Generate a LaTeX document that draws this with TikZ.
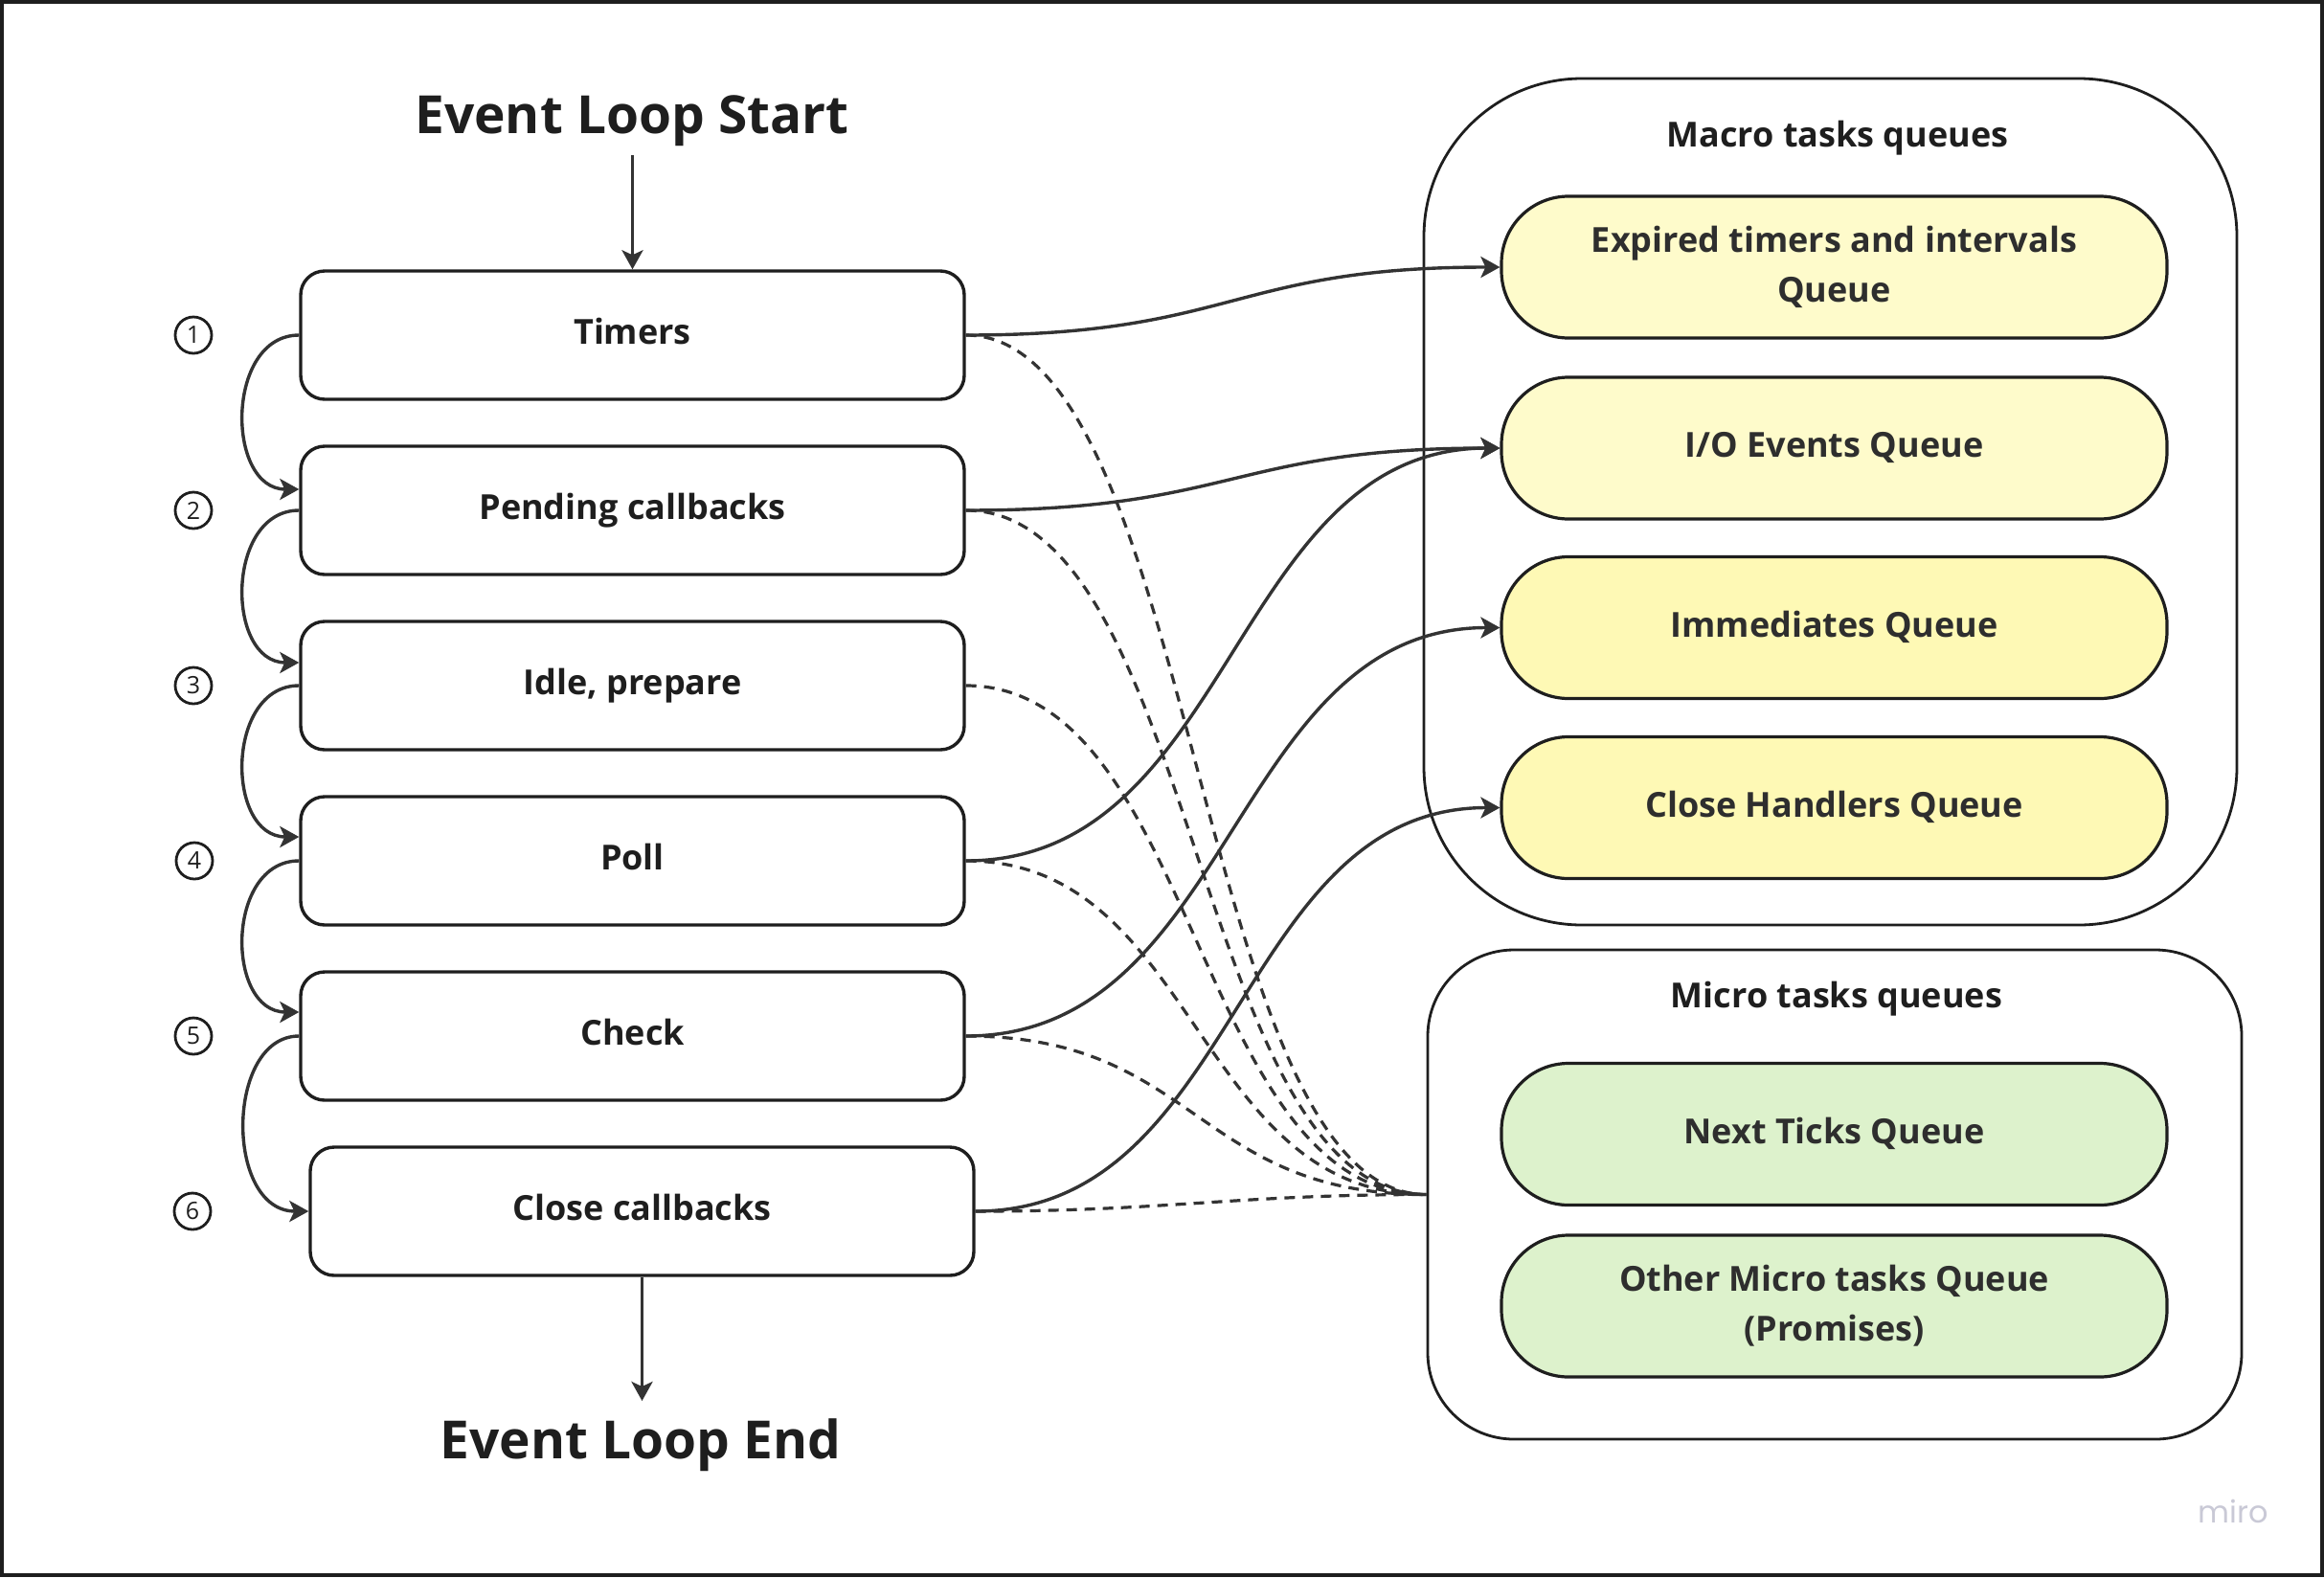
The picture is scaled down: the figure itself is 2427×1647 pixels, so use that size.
\documentclass[tikz,border=0pt]{standalone}
\usepackage{fontspec}
\setmainfont{Open Sans}
\newfontfamily\wmfont{Poppins}
\usetikzlibrary{arrows.meta}
\definecolor{ink}{HTML}{1E1E1E}
\definecolor{conn}{HTML}{333333}
\definecolor{qtext}{HTML}{2E2E2E}
\definecolor{ylight}{HTML}{FEFBCB}
\definecolor{ystrong}{HTML}{FEF9B5}
\definecolor{glight}{HTML}{DDF2CC}
\definecolor{wmgray}{HTML}{C9C9D6}
\begin{document}
\begin{tikzpicture}[x=1pt,y=-1pt,
  oneline/.style={text height=27pt,text depth=8pt},
  phase/.style={draw=ink, line width=3.4pt, rounded corners=25pt, minimum width=693pt, minimum height=134pt, inner sep=0pt, font=\fontsize{36}{50}\selectfont\bfseries, text=ink, fill=white, oneline},
  queue/.style={draw=ink, line width=3.2pt, rounded corners=70pt, minimum width=695pt, minimum height=148pt, inner sep=0pt, align=center, font=\fontsize{36}{52}\selectfont\bfseries, text=qtext},
  group/.style={draw=ink, line width=2.8pt, inner sep=0pt},
  grouptitle/.style={font=\fontsize{36}{50}\selectfont\bfseries, text=ink, anchor=base},
  bigtitle/.style={font=\fontsize{55}{70}\selectfont\bfseries, text=ink, anchor=base},
  num/.style={circle, draw=ink, line width=2.8pt, minimum size=38pt, inner sep=0pt, font=\fontsize{25}{28}\selectfont, text=ink},
  tipped/.style={-{Stealth[length=20pt,width=22pt,inset=5pt]}},
  flow/.style={draw=conn, line width=3.4pt, tipped},
  hint/.style={draw=conn, line width=3.2pt, dash pattern=on 11pt off 8pt},
]
\useasboundingbox (0,0) rectangle (2427,1647);
\fill[white] (0,0) rectangle (2427,1647);
\draw[ink, line width=4pt] (2,2) rectangle (2425,1645);

% containers
\node[group, rounded corners=165pt, minimum width=849pt, minimum height=884pt] (macro) at (1911.5,524) {};
\node[group, rounded corners=90pt, minimum width=850pt, minimum height=511pt] (micro) at (1916,1247.5) {};
\node[grouptitle] (macrot) at (1919,153) {Macro tasks queues};
\node[grouptitle] (microt) at (1918,1052.6) {Micro tasks queues};

% queues
\node[queue, fill=ylight] (q1) at (1915.5,279) {Expired timers and intervals\\Queue};
\node[queue, fill=ylight, oneline] (q2) at (1915.5,468) {I/O Events Queue};
\node[queue, fill=ystrong, oneline] (q3) at (1915.5,655.5) {Immediates Queue};
\node[queue, fill=ystrong, oneline] (q4) at (1915.5,843.5) {Close Handlers Queue};
\node[queue, fill=glight, oneline] (m1) at (1915.5,1184.5) {Next Ticks Queue};
\node[queue, fill=glight] (m2) at (1915.5,1364) {Other Micro tasks Queue\\(Promises)};

% phases
\node[phase] (p1) at (660.5,350) {Timers};
\node[phase] (p2) at (660.5,533) {Pending callbacks};
\node[phase] (p3) at (660.5,716) {Idle, prepare};
\node[phase] (p4) at (660.5,899) {Poll};
\node[phase] (p5) at (660.5,1082) {Check};
\node[phase] (p6) at (670.5,1265) {Close callbacks};

% numbers
\node[num] (n1) at (202,350) {1};
\node[num] (n2) at (202,533) {2};
\node[num] (n3) at (202,716) {3};
\node[num] (n4) at (203,899) {4};
\node[num] (n5) at (202,1082) {5};
\node[num] (n6) at (201,1265) {6};

% titles
\node[bigtitle] (start) at (660,139.3) {Event Loop Start};
\node[bigtitle] (end) at (669,1523) {Event Loop End};
\coordinate (s0) at (660.5,162);
\coordinate (e0) at (670.5,1463);
\draw[flow] (s0) -- (p1.north);
\draw[flow] (p6.south) -- (e0);

% loop arrows
\draw[flow] (p1.west) .. controls +(-77,0) and +(-77,0) .. ([yshift=22pt]p2.west);
\draw[flow] (p2.west) .. controls +(-77,0) and +(-77,0) .. ([yshift=24pt]p3.west);
\draw[flow] (p3.west) .. controls +(-77,0) and +(-77,0) .. ([yshift=25pt]p4.west);
\draw[flow] (p4.west) .. controls +(-77,0) and +(-77,0) .. ([yshift=25pt]p5.west);
\draw[flow] (p5.west) .. controls +(-77,0) and +(-88,0) .. (p6.west);

% dashed links to micro tasks
\draw[hint] (p1.east) .. controls +(242,0) and +(-242,0) .. (micro.west);
\draw[hint] (p2.east) .. controls +(242,0) and +(-242,0) .. (micro.west);
\draw[hint] (p3.east) .. controls +(242,0) and +(-242,0) .. (micro.west);
\draw[hint] (p4.east) .. controls +(242,0) and +(-242,0) .. (micro.west);
\draw[hint] (p5.east) .. controls +(242,0) and +(-242,0) .. (micro.west);
\draw[hint] (p6.east) .. controls +(200,0) and +(-200,0) .. (micro.west);

% solid links to macro tasks
\draw[flow] (p1.east) .. controls +(280,0) and +(-280,0) .. (q1.west);
\draw[flow] (p2.east) .. controls +(280,0) and +(-280,0) .. (q2.west);
\draw[flow] (p4.east) .. controls +(280,0) and +(-280,0) .. (q2.west);
\draw[flow] (p5.east) .. controls +(280,0) and +(-280,0) .. (q3.west);
\draw[flow] (p6.east) .. controls +(276,0) and +(-276,0) .. (q4.west);

\node[font=\wmfont\fontsize{32}{36}\selectfont, text=wmgray, anchor=base] (wm) at (2332,1590) {miro};
\end{tikzpicture}
\end{document}
